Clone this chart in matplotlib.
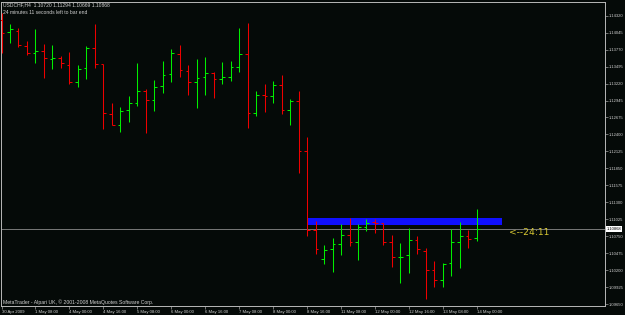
import matplotlib
matplotlib.use("Agg")
import matplotlib.pyplot as plt
import matplotlib.transforms as mtransforms
import numpy as np

# USDCHF H4 bars
opens = [1.14250, 1.14056, 1.14072, 1.13830, 1.13716, 1.13749, 1.13627, 1.13635, 1.13522, 1.13247,
         1.13474, 1.13797, 1.13538, 1.12729, 1.12551, 1.12794, 1.12907, 1.13101, 1.12956, 1.13182,
         1.13377, 1.13700, 1.13425, 1.13247, 1.13328, 1.13393, 1.13296, 1.13328, 1.13490, 1.13700,
         1.12745, 1.13037, 1.13020, 1.13198, 1.12794, 1.12940, 1.12131, 1.10852, 1.10383, 1.10545,
         1.10626, 1.10771, 1.10658, 1.10901, 1.10982, 1.10966, 1.10658, 1.10407, 1.10448, 1.10690,
         1.10512, 1.10205, 1.10043, 1.10318, 1.10658, 1.10755, 1.10720]
highs = [1.14364, 1.14186, 1.14121, 1.13910, 1.14105, 1.13862, 1.13846, 1.13668, 1.13732, 1.13522,
         1.13830, 1.14186, 1.13538, 1.12907, 1.12843, 1.13020, 1.13555, 1.13134, 1.13279, 1.13587,
         1.13781, 1.13846, 1.13522, 1.13619, 1.13652, 1.13409, 1.13571, 1.13587, 1.14121, 1.14202,
         1.13101, 1.13215, 1.13263, 1.13360, 1.12972, 1.13101, 1.12357, 1.10998, 1.10610, 1.10723,
         1.10949, 1.11046, 1.10949, 1.11030, 1.11030, 1.10966, 1.10771, 1.10642, 1.10885, 1.10755,
         1.10561, 1.10351, 1.10318, 1.10868, 1.10982, 1.10852, 1.11190]
lows = [1.13716, 1.13878, 1.13813, 1.13684, 1.13555, 1.13312, 1.13457, 1.13474, 1.13215, 1.13166,
        1.13296, 1.13474, 1.12487, 1.12551, 1.12438, 1.12600, 1.12859, 1.12422, 1.12778, 1.13069,
        1.13247, 1.13328, 1.13037, 1.12826, 1.13037, 1.12988, 1.13215, 1.13263, 1.13409, 1.12503,
        1.12697, 1.12762, 1.12907, 1.12729, 1.12551, 1.11775, 1.10755, 1.10464, 1.10302, 1.10173,
        1.10448, 1.10593, 1.10367, 1.10836, 1.10804, 1.10610, 1.10254, 1.09995, 1.10156, 1.10464,
        1.09736, 1.09930, 1.09930, 1.10108, 1.10237, 1.10561, 1.10669]
closes = [1.14040, 1.14105, 1.13846, 1.13716, 1.13749, 1.13635, 1.13643, 1.13555, 1.13247, 1.13457,
          1.13797, 1.13538, 1.12745, 1.12551, 1.12778, 1.12907, 1.13101, 1.12956, 1.13166, 1.13360,
          1.13716, 1.13441, 1.13247, 1.13312, 1.13393, 1.13296, 1.13328, 1.13490, 1.13700, 1.12745,
          1.13037, 1.13020, 1.13198, 1.12794, 1.12940, 1.12131, 1.10852, 1.10545, 1.10529, 1.10626,
          1.10771, 1.10658, 1.10901, 1.10966, 1.10966, 1.10658, 1.10415, 1.10423, 1.10690, 1.10545,
          1.10205, 1.10043, 1.10302, 1.10658, 1.10755, 1.10707, 1.10868]

date_labels = ["30 Apr 2009", "1 May 08:00", "4 May 00:00", "4 May 16:00", "5 May 08:00",
               "6 May 00:00", "6 May 16:00", "7 May 08:00", "8 May 00:00", "8 May 16:00",
               "11 May 08:00", "12 May 00:00", "12 May 16:00", "13 May 08:00", "14 May 00:00"]
price_labels = ["1.14320", "1.14045", "1.13770", "1.13495", "1.13220", "1.12945", "1.12675",
                "1.12400", "1.12125", "1.11850", "1.11575", "1.11300", "1.11025", "1.10750",
                "1.10475", "1.10200", "1.09925", "1.09650"]

zone_bars = [36, 59]
zone_prices = [1.10933, 1.11046]
bid = 1.10868
header = "USDCHF,H4  1.10720 1.11294 1.10669 1.10868"
timer_line = "24 minutes 11 seconds left to bar end"
countdown = "<--24:11"
copyright_line = "MetaTrader - Alpari UK, \u00a9 2001-2008 MetaQuotes Software Corp."

BG = "#050a08"
FG = "#d0d0d0"
BULL = "#00ee00"
BEAR = "#ee0000"
small = ["Liberation Sans", "DejaVu Sans"]

fig = plt.figure(figsize=(6.25, 3.15), dpi=100, facecolor=BG)
ax = fig.add_axes([1 / 625, 9 / 315, 604 / 625, 304 / 315], facecolor=BG)

o = np.array(opens)
h = np.array(highs)
l = np.array(lows)
c = np.array(closes)
x = np.arange(len(o))
cols = np.where(c >= o, BULL, BEAR)

ax.fill_between(zone_bars, zone_prices[0], zone_prices[1], color="#1010ff", lw=0, zorder=1)
ax.axhline(bid, color="#8a8a8a", lw=0.6, zorder=2)

ax.vlines(x, l, h, colors=cols, lw=0.75, zorder=3)
ax.hlines(o, x - 0.32, x, colors=cols, lw=0.75, zorder=3)
ax.hlines(c, x, x + 0.32, colors=cols, lw=0.75, zorder=3)

ax.set_xlim(-0.06, 71.1)
ax.set_ylim(1.09622, 1.14542)

ax.set_xticks(x[::4])
ax.set_xticklabels(date_labels[:len(x[::4])], ha="left", family=small, fontsize=3.1, color=FG)
ax.yaxis.tick_right()
ax.set_yticks([float(p) for p in price_labels])
ax.set_yticklabels(price_labels, family=small, fontsize=3.0, color=FG)
ax.tick_params(axis="x", length=2, width=0.5, color="#a0a0a0", pad=0.8)
ax.tick_params(axis="y", length=2, width=0.5, color="#a0a0a0", pad=1.0)
for s in ax.spines.values():
    s.set_color("#b8b8b8")
    s.set_linewidth(0.7)

# current price tag on the scale
trans = mtransforms.blended_transform_factory(ax.transAxes, ax.transData)
ax.text(1.003, bid, f"{bid:.5f}", transform=trans, ha="left", va="center", family=small,
        fontsize=3.0, color="black", clip_on=False,
        bbox=dict(boxstyle="square,pad=0.2", fc="white", ec="none"))

ax.text(x[-1] + 3.8, bid - 0.0006, countdown, ha="left", va="center", fontsize=6.6,
        color="#d8c832")

fig.text(3 / 625, 1 - 5 / 315, header, ha="left", va="center", family=small, fontsize=3.6, color=FG)
fig.text(3 / 625, 1 - 12 / 315, timer_line, ha="left", va="center", family=small, fontsize=3.6, color=FG)
fig.text(3 / 625, 1 - 302 / 315, copyright_line, ha="left", va="center", family=small,
         fontsize=3.7, color=FG)

fig.savefig("out.png", dpi=100, facecolor=BG)
